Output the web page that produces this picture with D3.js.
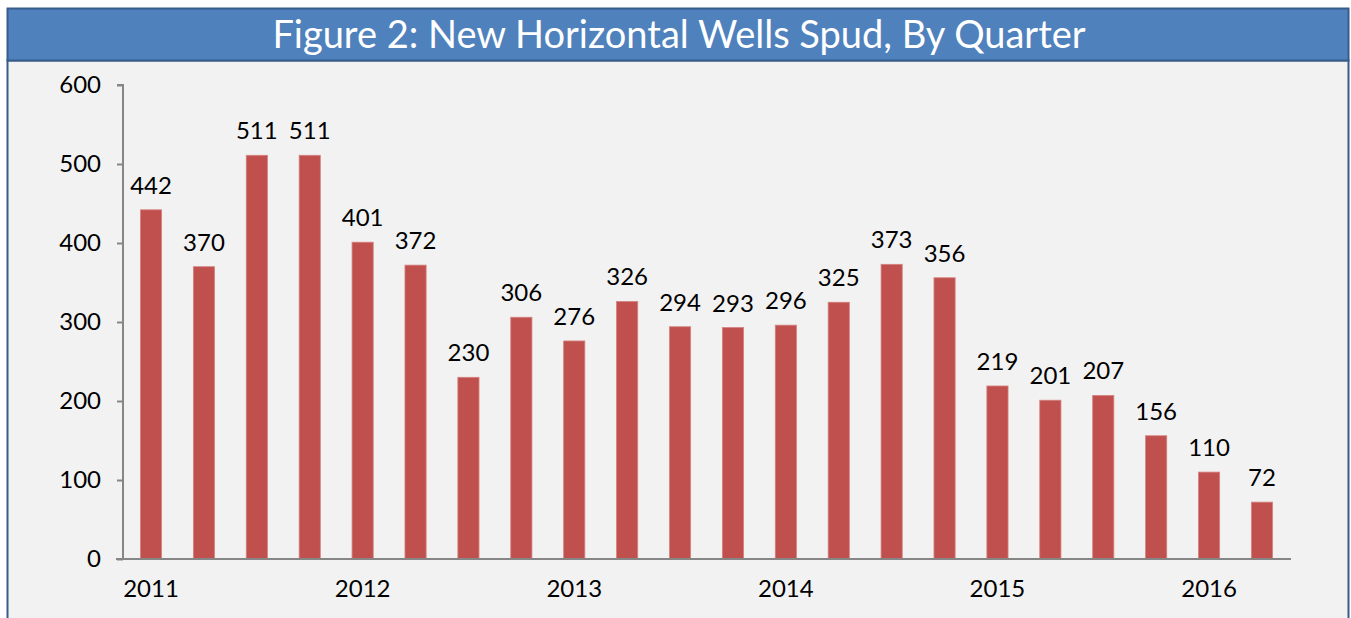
<!DOCTYPE html>
<html>
<head>
<meta charset="utf-8">
<script src="https://cdn.jsdelivr.net/npm/d3@7"></script>
<style>
  body { margin: 0; background: #fff; }
  text { font-family: Lato, "Noto Sans", sans-serif; }
</style>
</head>
<body>
<div id="chart"></div>
<script>
// quarterly values, 2011 Q1 .. 2016 Q2
var quarters = ["2011Q1","2011Q2","2011Q3","2011Q4","2012Q1","2012Q2","2012Q3","2012Q4",
                "2013Q1","2013Q2","2013Q3","2013Q4","2014Q1","2014Q2","2014Q3","2014Q4",
                "2015Q1","2015Q2","2015Q3","2015Q4","2016Q1","2016Q2"];
var wells = [442, 370, 511, 511, 401, 372, 230, 306, 276, 326, 294, 293,
             296, 325, 373, 356, 219, 201, 207, 156, 110, 72];
var yearLabels = ["2011","2012","2013","2014","2015","2016"];
var yTicks = [0, 100, 200, 300, 400, 500, 600];
var title = "Figure 2: New Horizontal Wells Spud, By Quarter";

var W = 1351, H = 618;

var svg = d3.select("#chart").append("svg")
    .attr("width", W)
    .attr("height", H);

// panel
svg.append("rect")
    .attr("x", 7.5).attr("y", 60.5)
    .attr("width", 1341).attr("height", 600)
    .style("fill", "#f2f2f2")
    .style("stroke", "#385d8a")
    .style("stroke-width", 2);

// title bar
svg.append("rect")
    .attr("x", 7.5).attr("y", 8.5)
    .attr("width", 1341).attr("height", 52)
    .style("fill", "#4f81bd")
    .style("stroke", "#385d8a")
    .style("stroke-width", 2);

svg.append("text")
    .attr("x", 679)
    .attr("y", 48)
    .style("text-anchor", "middle")
    .style("font-size", "38px")
    .style("fill", "#fff")
    .text(title);

var x = d3.scaleBand()
    .domain(quarters)
    .range([123, 1290])
    .paddingInner(0.6)
    .paddingOuter(0.33);

var y = d3.scaleLinear()
    .domain([0, 600])
    .range([559, 85]);

var g = svg.append("g");

g.selectAll(".bar")
    .data(wells)
    .enter().append("rect")
      .attr("class", "bar")
      .attr("x", function(d, i) { return x(quarters[i]); })
      .attr("width", x.bandwidth())
      .attr("y", function(d) { return y(d); })
      .attr("height", function(d) { return y(0) - y(d); })
      .style("fill", "#c0504d")
      .style("stroke", "#d4827f")
      .style("stroke-width", 0.8);

g.selectAll(".val")
    .data(wells)
    .enter().append("text")
      .attr("class", "val")
      .attr("x", function(d, i) { return x(quarters[i]) + x.bandwidth() / 2; })
      .attr("y", function(d) { return y(d) - 16; })
      .style("text-anchor", "middle")
      .style("font-size", "24px")
      .style("fill", "#000")
      .text(function(d) { return d; });

// y axis
var yAxis = g.append("g")
    .attr("transform", "translate(123,0)")
    .call(d3.axisLeft(y).tickValues(yTicks).tickSize(6).tickPadding(16));
yAxis.select(".domain").attr("d", "M-6," + y(600) + "H0V" + y(0))
    .style("stroke", "#868686").style("stroke-width", 2);
yAxis.selectAll(".tick line").style("stroke", "#868686").style("stroke-width", 2);
yAxis.selectAll(".tick text")
    .style("font-size", "24px").style("fill", "#000")
    .style("font-family", "Lato, 'Noto Sans', sans-serif");

// x axis
var xAxis = g.append("g")
    .attr("transform", "translate(0," + y(0) + ")")
    .call(d3.axisBottom(x)
      .tickValues(quarters.filter(function(q) { return /Q1$/.test(q); }))
      .tickSize(0).tickPadding(21)
      .tickFormat(function(q, i) { return yearLabels[i]; }));
xAxis.select(".domain").attr("d", "M116,0H1291")
    .style("stroke", "#868686").style("stroke-width", 2);
xAxis.selectAll(".tick text")
    .style("font-size", "24px").style("fill", "#000")
    .style("font-family", "Lato, 'Noto Sans', sans-serif");
</script>
</body>
</html>
